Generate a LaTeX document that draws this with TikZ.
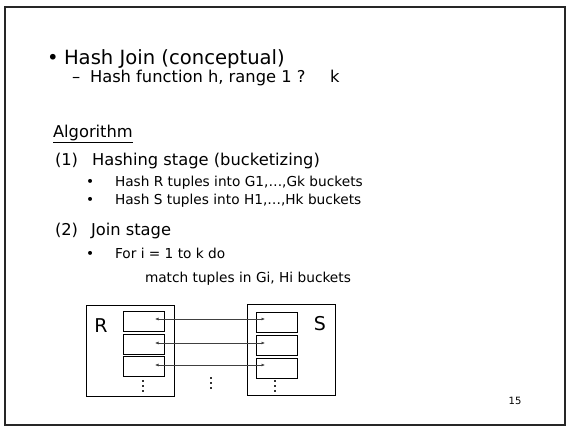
\documentclass[tikz,border=0pt]{standalone}
\usepackage{fontspec}
\setmainfont{DejaVu Sans}
\usetikzlibrary{arrows.meta}
\tikzset{
  txt/.style={anchor=base west, inner sep=0pt, outer sep=0pt},
  lvlA/.style={txt, font=\fontsize{19.6}{23}\selectfont},
  lvlB/.style={txt, font=\fontsize{16.3}{19}\selectfont},
  lvlD/.style={txt, font=\fontsize{13.7}{16}\selectfont},
  relbox/.style={draw=black, line width=0.8pt},
  bucket/.style={draw=black, line width=0.8pt, minimum width=41pt, minimum height=20pt, inner sep=0pt, anchor=north west},
  link/.style={draw=black!75, line width=0.6pt, {Latex[length=3.5pt,width=3pt]}-{Latex[length=3.5pt,width=3pt]}},
  dotmark/.style={fill=black!80, inner sep=0pt, minimum width=1.3pt, minimum height=1.3pt, draw=none}
}
\begin{document}
\begin{tikzpicture}[x=1pt,y=-1pt]
\useasboundingbox (0,0) rectangle (567,426);
% slide frame
\draw[line width=1.2pt, black!85] (5,7) rectangle (565,425);

% header bullets
\node[lvlA] (b0) at (47,64) {•};
\node[lvlA] (t0) at (64,64) {Hash Join (conceptual)};
\node[lvlB] (d1) at (72,82) {–};
\node[lvlB] (t1) at (90,82) {Hash function h, range 1 ?};
\node[lvlB] (k1) at (330,82) {k};

% algorithm
\node[lvlB] (alg) at (53,137) {\underline{Algorithm}};
\node[lvlB] (n1) at (55,165) {(1)};
\node[lvlB] (t2) at (92,165) {Hashing stage (bucketizing)};
\node[lvlD] (b3) at (86,186) {•};
\node[lvlD] (t3) at (115,186) {Hash R tuples into G1,…,Gk buckets};
\node[lvlD] (b4) at (86,204) {•};
\node[lvlD] (t4) at (115,204) {Hash S tuples into H1,…,Hk buckets};
\node[lvlB] (n2) at (55,235) {(2)};
\node[lvlB] (t5) at (91,235) {Join stage};
\node[lvlD] (b6) at (86,258) {•};
\node[lvlD] (t6) at (115,258) {For i = 1 to k do};
\node[lvlD] (t7) at (145,282) {match tuples in Gi, Hi buckets};

% relation R and its buckets
\draw[relbox] (86,305) rectangle (174,396);
\node[font=\fontsize{19}{21}\selectfont, inner sep=0pt] (R) at (101,326) {R};
\node[bucket] (g1) at (123,311) {};
\node[bucket] (g2) at (123,333.5) {};
\node[bucket] (g3) at (123,356) {};

% relation S and its buckets
\draw[relbox] (247,304) rectangle (335,395);
\node[font=\fontsize{19}{21}\selectfont, inner sep=0pt] (S) at (320,324) {S};
\node[bucket] (h1) at (256,312) {};
\node[bucket] (h2) at (256,335) {};
\node[bucket] (h3) at (256,358) {};

% matching bucket pairs
\coordinate (gp1) at (155,319);
\coordinate (gp2) at (155,343);
\coordinate (gp3) at (155,365);
\coordinate (hp1) at (265,319);
\coordinate (hp2) at (265,343);
\coordinate (hp3) at (265,365);
\draw[link] (gp1) -- (hp1);
\draw[link] (gp2) -- (hp2);
\draw[link] (gp3) -- (hp3);

% continuation dots
\foreach \px/\py in {143/381, 211/378, 275/381} {
  \node[dotmark] at (\px,\py) {};
  \node[dotmark] at (\px,\py+5) {};
  \node[dotmark] at (\px,\py+10) {};
}

% page number
\node[font=\fontsize{10}{12}\selectfont, inner sep=0pt] (pg) at (515,401) {15};
\end{tikzpicture}
\end{document}
